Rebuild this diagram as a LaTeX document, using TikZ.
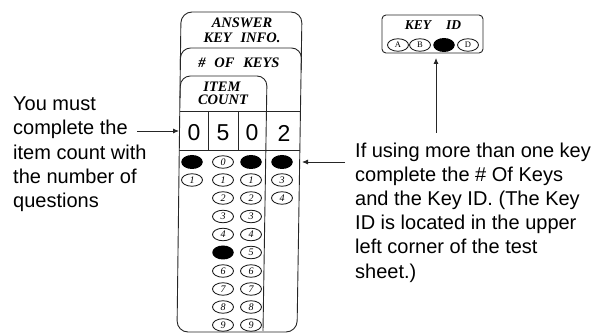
\documentclass[tikz,border=0pt]{standalone}
\usepackage{fontspec}
\setmainfont{Liberation Sans}
\newfontfamily\formfont{Liberation Serif}
\usetikzlibrary{shapes.geometric,arrows.meta}
\begin{document}
\begin{tikzpicture}[x=1pt,y=-1pt,
  box/.style={draw=black!85, line width=0.9pt},
  formlbl/.style={font=\formfont\bfseries\itshape\fontsize{14.5}{14.5}\selectfont, inner sep=0},
  bub/.style={ellipse, draw=black!90, line width=0.85pt, minimum width=21pt, minimum height=12.5pt, inner sep=0, font=\formfont\itshape\fontsize{10}{10}\selectfont},
  kbub/.style={bub, font=\formfont\fontsize{8.5}{8.5}\selectfont},
  fbub/.style={ellipse, fill=black, minimum width=21.5pt, minimum height=14pt, inner sep=0},
  digit/.style={font=\fontsize{23}{23}\selectfont, inner sep=0},
  note/.style={font=\fontsize{20}{24.2}\selectfont, align=left, anchor=north west, inner sep=0},
  arr/.style={draw=black!85, line width=0.8pt, -{Latex[length=6pt,width=5pt]}}
]
\useasboundingbox (0,0) rectangle (598,334);

% answer key info form
\draw[box, rounded corners=11pt] (177,332) -- (181,12) -- (302,12) -- (297,332) -- cycle;
\draw[box, rounded corners=10pt] (180.3,70) -- (180.6,48) -- (301.5,48) -- (301.2,70);
\draw[box, rounded corners=10pt] (180.1,98) -- (180.4,76) -- (267,76) -- (263,331);
\draw[box] (179.8,111) -- (300.5,111);
\draw[box] (179.3,150) -- (299.8,150);
\draw[box] (208,111) -- (208,150);
\draw[box] (238,111) -- (238,150);

\node[formlbl] (ans) at (242,23) {ANSWER};
\node[formlbl] (kinfo) at (242,38) {KEY\hspace{0.6em}INFO.};
\node[formlbl] (nkeys) at (239,63) {\#\hspace{0.6em}OF\hspace{0.6em}KEYS};
\node[formlbl] (item) at (222,87) {ITEM};
\node[formlbl] (count) at (223,100) {COUNT};

\node[digit] (d1) at (194,133) {0};
\node[digit] (d2) at (223,133) {5};
\node[digit] (d3) at (252,133) {0};
\node[digit] (d4) at (284,133) {2};

% bubbles
\node[fbub] (b1-0) at (192,162) {};
\node[bub] (b2-0) at (223,162) {0};
\node[fbub] (b3-0) at (251,162) {};
\node[fbub] (b4-0) at (282,162) {};
\node[bub] (b1-1) at (192,180) {1};
\node[bub] (b4-1) at (282,180) {3};
\node[bub] (b4-2) at (282,198) {4};
\foreach \r/\y in {1/180,2/198,3/216.5,4/234.5,6/271,7/289,8/307,9/325}{
  \node[bub] (b2-\r) at (223,\y) {\r};
  \node[bub] (b3-\r) at (251,\y) {\r};
}
\node[fbub] (b2-5) at (223,252.5) {};
\node[bub] (b3-5) at (251,252.5) {5};

% key id box
\node[box, rounded corners=4pt, minimum width=101pt, minimum height=38pt, inner sep=0] (keybox) at (432.5,34) {};
\node[formlbl, font=\formfont\bfseries\itshape\fontsize{13.5}{13.5}\selectfont] (keyid) at (433,25) {KEY\hspace{1.1em}ID};
\node[kbub] (ka) at (398,45) {A};
\node[kbub] (kb) at (420,45) {B};
\node[fbub] (kc) at (444,45) {};
\node[kbub] (kd) at (468,45) {D};

% notes
\node[note] (lefttext) at (13,96.7) {You must\\complete the\\item count with\\the number of\\questions};
\node[note] (righttext) at (355,142.4) {If using more than one key\\complete the \# Of Keys\\and the Key ID. (The Key\\ID is located in the upper\\left corner of the test\\sheet.)};

% arrows
\coordinate (la0) at (137,131);
\coordinate (la1) at (179,131);
\draw[arr] (la0) -- (la1);
\coordinate (ra0) at (345,162);
\coordinate (ra1) at (302,162);
\draw[arr] (ra0) -- (ra1);
\coordinate (ua0) at (436,133);
\coordinate (ua1) at (436,58);
\draw[arr] (ua0) -- (ua1);
\end{tikzpicture}
\end{document}
